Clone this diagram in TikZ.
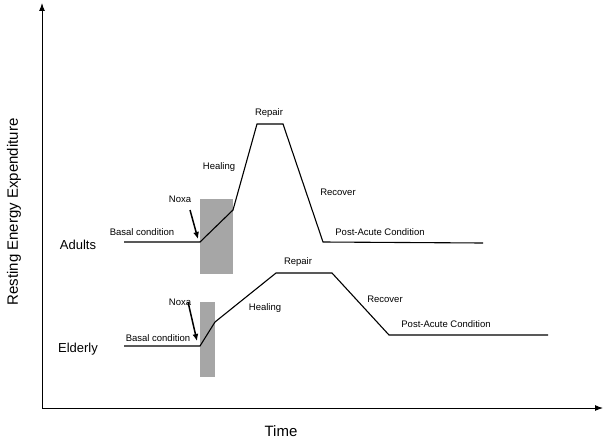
\documentclass[tikz,border=0pt]{standalone}
\usepackage{fontspec}
\setmainfont{Liberation Sans}
\usetikzlibrary{arrows.meta}
\begin{document}
\begin{tikzpicture}[x=1pt,y=-1pt,
 lbl/.style={font=\fontsize{9.5}{10}\selectfont,inner sep=0},
 big/.style={font=\fontsize{13}{14}\selectfont,inner sep=0},
 huge/.style={font=\fontsize{15}{16}\selectfont,inner sep=0},
 curve/.style={line width=1.1pt,line join=miter},
 bar/.style={fill=black!35,draw=none},
 ar/.style={-{Latex[length=7pt,width=6pt]},line width=1.5pt}]
\useasboundingbox (0,0) rectangle (604,444);
\coordinate (o) at (42,408);
\coordinate (yt) at (42,3);
\coordinate (xt) at (603,408);
\draw[-{Latex[length=8pt,width=6pt]},line width=1pt] (o) -- (yt);
\draw[-{Latex[length=8pt,width=6pt]},line width=1pt] (o) -- (xt);
\node[huge,rotate=90] (ylab) at (14,212) {Resting Energy Expenditure};
\node[huge] (tlab) at (281,431) {Time};
% Adults
\node[bar,minimum width=33pt,minimum height=75pt,anchor=north west] (ra) at (200,199) {};
\draw[curve] (124,242) -- (200,242) -- (233,210) -- (257,124) -- (283,124) -- (323,242) -- (483,243);
\coordinate (na) at (190,210); \coordinate (nat) at (198,239);
\draw[ar] (na) -- (nat);
\node[big] (ad) at (78,245) {Adults};
\node[lbl] (b1) at (142,232) {Basal condition};
\node[lbl] (x1) at (180,199) {Noxa};
\node[lbl] (h1) at (219,167) {Healing};
\node[lbl] (r1) at (269,113) {Repair};
\node[lbl] (c1) at (338,192) {Recover};
\node[lbl] (p1) at (380,232) {Post-Acute Condition};
% Elderly
\node[bar,minimum width=15pt,minimum height=75pt,anchor=north west] (re) at (200,302) {};
\draw[curve] (124,346) -- (200,346) -- (215,322) -- (276,273) -- (332,273) -- (389,335) -- (548,335);
\coordinate (ne) at (188,302); \coordinate (net) at (197,341);
\draw[ar] (ne) -- (net);
\node[big] (el) at (78,349) {Elderly};
\node[lbl] (b2) at (158,338) {Basal condition};
\node[lbl] (x2) at (180,302) {Noxa};
\node[lbl] (h2) at (265,308) {Healing};
\node[lbl] (r2) at (298,262) {Repair};
\node[lbl] (c2) at (385,299) {Recover};
\node[lbl] (p2) at (446,324) {Post-Acute Condition};
\end{tikzpicture}
\end{document}
